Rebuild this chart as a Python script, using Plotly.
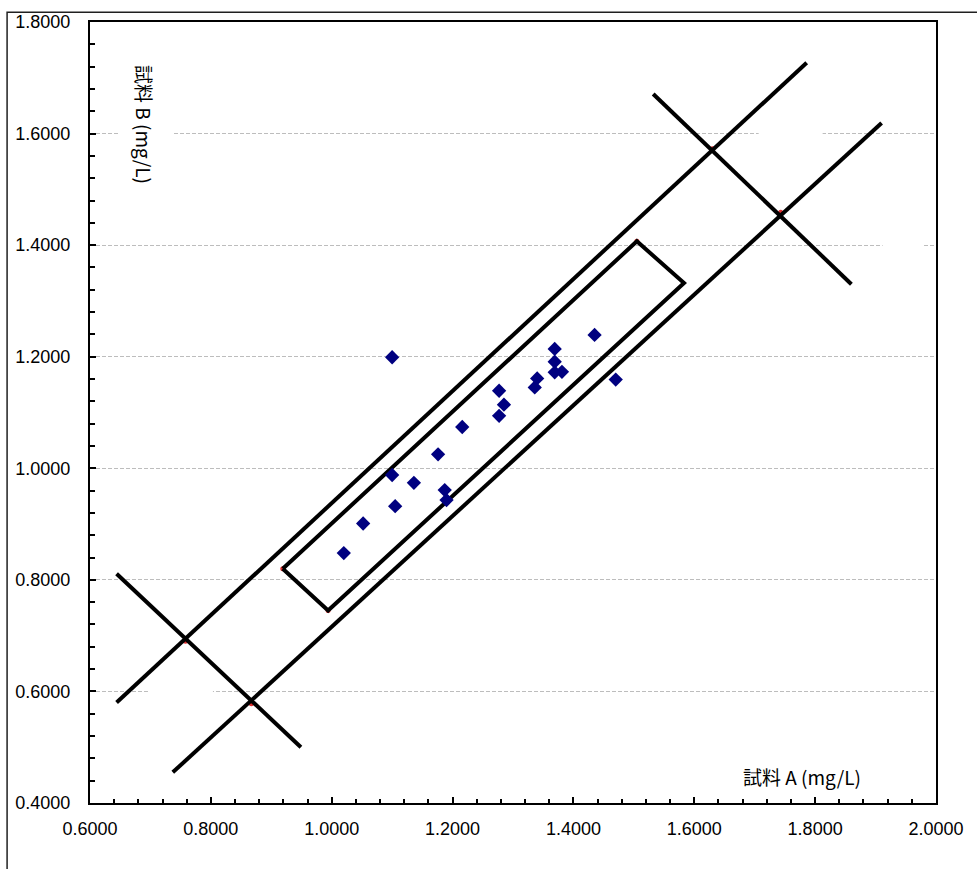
import plotly.graph_objects as go

# ---- data ----
sample_a = [1.020, 1.052, 1.105, 1.100, 1.100, 1.136, 1.176, 1.187, 1.190, 1.216,
            1.277, 1.277, 1.285, 1.336, 1.340, 1.369, 1.369, 1.369, 1.381, 1.435, 1.470]
sample_b = [0.848, 0.901, 0.932, 0.988, 1.199, 0.974, 1.025, 0.961, 0.943, 1.074,
            1.139, 1.094, 1.114, 1.145, 1.161, 1.214, 1.191, 1.172, 1.173, 1.239, 1.159]

upper_band_x = [0.644, 1.786]
upper_band_y = [0.580, 1.727]
lower_band_x = [0.737, 1.910]
lower_band_y = [0.455, 1.619]
cross_ll_x = [0.644, 0.949]
cross_ll_y = [0.811, 0.500]
cross_ur_x = [1.532, 1.860]
cross_ur_y = [1.671, 1.330]
rect_x = [0.919, 0.994, 1.583, 1.505, 0.919]
rect_y = [0.820, 0.745, 1.332, 1.407, 0.820]
red_x = [0.919, 0.994, 1.505, 1.743, 1.630, 0.758, 0.867]
red_y = [0.820, 0.745, 1.407, 1.459, 1.573, 0.690, 0.578]

x_ticks = [0.6, 0.8, 1.0, 1.2, 1.4, 1.6, 1.8, 2.0]
y_ticks = [0.4, 0.6, 0.8, 1.0, 1.2, 1.4, 1.6, 1.8]
x_title = "試料 A (mg/L)"
y_title = "試料 B (mg/L)"

fig = go.Figure()

fig.add_trace(go.Scatter(x=red_x, y=red_y, mode="markers",
                         marker=dict(color="#e03030", size=5), hoverinfo="skip"))

line_style = dict(color="black", width=4)
for xs, ys in [(upper_band_x, upper_band_y), (lower_band_x, lower_band_y),
               (cross_ll_x, cross_ll_y), (cross_ur_x, cross_ur_y), (rect_x, rect_y)]:
    fig.add_trace(go.Scatter(x=xs, y=ys, mode="lines", line=line_style, hoverinfo="skip"))

fig.add_trace(go.Scatter(x=sample_a, y=sample_b, mode="markers",
                         marker=dict(symbol="diamond", color="#000080", size=11,
                                     line=dict(width=0))))

# white gaps in gridlines (hidden boxes in original)
gaps = [(0.6496, 0.7373, 1.6), (1.7065, 1.8124, 1.6), (1.9116, 1.9794, 1.4), (0.6959, 0.8034, 0.6)]
for x0, x1, yv in gaps:
    fig.add_shape(type="rect", xref="x", yref="y", x0=x0, x1=x1, y0=yv - 0.006, y1=yv + 0.006,
                  fillcolor="white", line=dict(width=0), layer="between")

# outer chart-area border (left & top visible)
fig.add_shape(type="rect", xref="paper", yref="paper", x0=-0.098, x1=1.08, y0=-0.12, y1=1.0125,
              line=dict(color="#202020", width=1.5), fillcolor="rgba(0,0,0,0)", layer="above")

fig.add_annotation(text=y_title, xref="paper", yref="paper", x=0.065, y=0.868,
                   xanchor="center", yanchor="middle",
                   textangle=90, showarrow=False,
                   font=dict(family="Noto Sans CJK JP", size=19, color="black"))
fig.add_annotation(text=x_title, xref="paper", yref="paper", x=0.842, y=0.034,
                   xanchor="center", yanchor="middle",
                   showarrow=False,
                   font=dict(family="Noto Sans CJK JP", size=19, color="black"))

axis_common = dict(showline=True, linecolor="black", linewidth=2, mirror=True,
                   ticks="inside", ticklen=6, tickwidth=1.5, tickcolor="black",
                   tickformat=".4f", zeroline=False,
                   tickfont=dict(family="Liberation Sans, Arial", size=18, color="black"))

fig.update_xaxes(range=[0.6, 2.0], tickvals=x_ticks, showgrid=False,
                 minor=dict(dtick=0.04, ticks="inside", ticklen=4, tickcolor="black", showgrid=False),
                 ticklabelstandoff=8, **axis_common)
fig.update_yaxes(range=[0.4, 1.8], tickvals=y_ticks, showgrid=True,
                 gridcolor="#bdbdbd", gridwidth=1, griddash="4px,2px",
                 minor=dict(dtick=0.04, ticks="inside", ticklen=5, tickcolor="black", showgrid=False),
                 ticklabelstandoff=14, **axis_common)

fig.update_layout(width=977, height=869, showlegend=False,
                  plot_bgcolor="white", paper_bgcolor="white",
                  margin=dict(l=90, r=40.5, t=17.5, b=66.3))

fig.write_html("out.html")
